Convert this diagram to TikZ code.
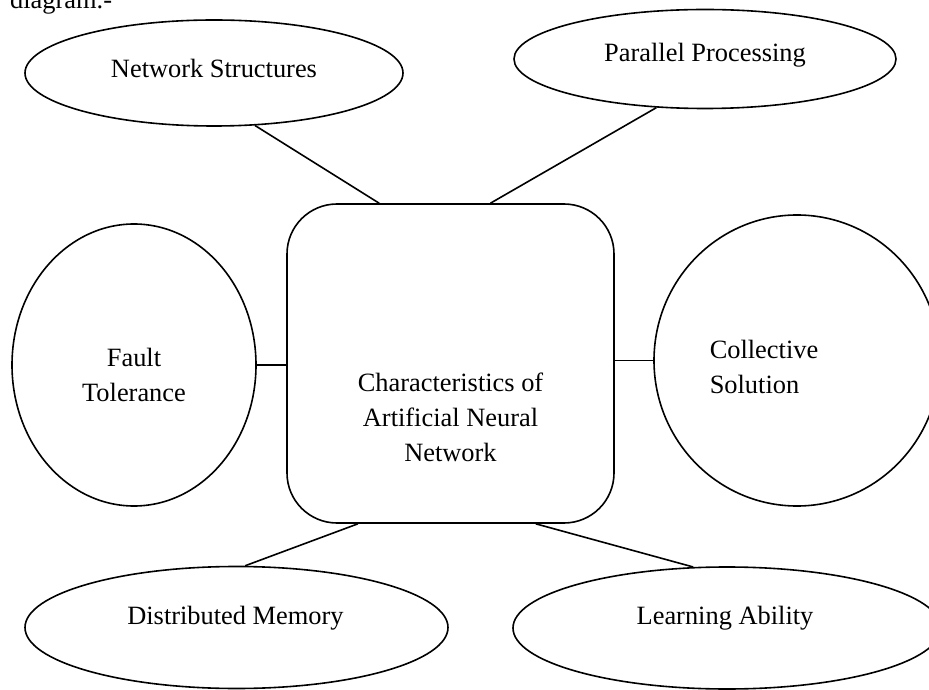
\documentclass[tikz,border=0pt]{standalone}
\usepackage{fontspec}
\setmainfont{Liberation Serif}
\usetikzlibrary{shapes.geometric}

\begin{document}
\begin{tikzpicture}[x=1pt,y=1pt]
			\useasboundingbox (0,0) rectangle (929,689);
			\clip (0,0) rectangle (929,689);
			\tikzstyle{txt}=[font=\fontsize{26.4}{35}\selectfont,inner sep=0pt]
			\tikzstyle{bubble}=[ellipse,draw,line width=1.6pt,inner sep=0pt]
			\tikzstyle{link}=[line width=1.6pt]
			\node[txt,anchor=base west] (cap) at (10,680) {diagram.-};
			\node[draw,line width=1.6pt,rounded corners=50pt,minimum width=327pt,minimum height=319pt,
				label={[txt,align=center,yshift=-53.5pt]center:Characteristics of\\Artificial Neural\\Network}] (ann) at (450.5,325.5) {};
			\node[bubble,minimum width=378pt,minimum height=106pt,
				label={[txt,anchor=base,yshift=5pt]center:Network Structures}] (ns) at (214,616) {};
			\node[bubble,minimum width=382pt,minimum height=99pt,
				label={[txt,anchor=base,yshift=4pt]center:Parallel Processing}] (pp) at (705,630) {};
			\node[bubble,minimum width=244pt,minimum height=282pt,
				label={[txt,align=center,yshift=-10pt]center:Fault\\Tolerance}] (ft) at (134,324) {};
			\node[bubble,minimum width=286pt,minimum height=291pt,
				label={[txt,align=left,xshift=-33pt,yshift=-6pt]center:Collective\\Solution}] (cs) at (797,328.5) {};
			\node[bubble,minimum width=423pt,minimum height=122pt,
				label={[txt,anchor=base,xshift=-1pt,yshift=9.5pt]center:Distributed Memory}] (dm) at (236.5,61.5) {};
			\node[bubble,minimum width=428pt,minimum height=122pt,
				label={[txt,anchor=base,xshift=-2pt,yshift=10pt]center:Learning Ability}] (la) at (727,61) {};
			\draw[link] (ns.-52) -- (ann.114);
			\draw[link] (pp.225) -- (ann.76);
			\draw[link] (ft.east) -- (ft.east -| ann.west);
			\draw[link] (cs.west) -- (cs.west -| ann.east);
			\draw[link] (dm.82) -- (ann.240);
			\draw[link] (la.119) -- (ann.298);
		\end{tikzpicture}
\end{document}
